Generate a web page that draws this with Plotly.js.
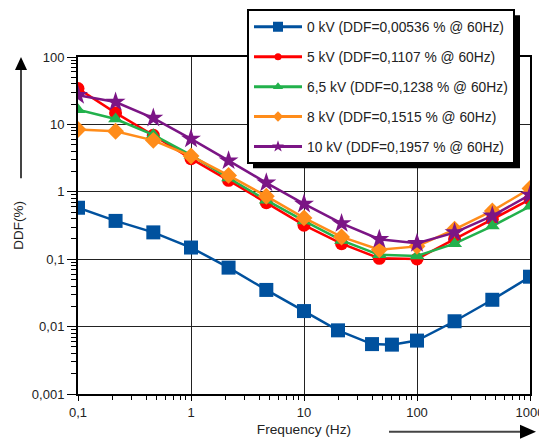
<!DOCTYPE html>
<html>
<head>
<meta charset="utf-8">
<script src="https://cdn.plot.ly/plotly-3.0.1.min.js"></script>
<style>html,body{margin:0;padding:0;background:#fff;}#chart{width:539px;height:444px;}</style>
</head>
<body>
<div id="chart"></div>
<script>
// ---- data ----
const freqBlue = [0.1, 0.215, 0.464, 1, 2.15, 4.64, 10, 20, 40, 60, 100, 215, 464, 1000];
const ddf0kV   = [0.58, 0.37, 0.25, 0.149, 0.075, 0.035, 0.017, 0.0088, 0.0055, 0.0054, 0.0062, 0.012, 0.025, 0.055];
const freq     = [0.1, 0.215, 0.464, 1, 2.15, 4.64, 10, 21.5, 46.4, 100, 215, 464, 1000];
const ddf5kV   = [34, 14.8, 6.9, 3.1, 1.48, 0.69, 0.32, 0.17, 0.103, 0.101, 0.2, 0.39, 0.77];
const ddf65kV  = [16.5, 12, 7.0, 3.5, 1.6, 0.75, 0.37, 0.19, 0.116, 0.112, 0.17, 0.31, 0.61];
const ddf8kV   = [8.4, 7.9, 5.8, 3.4, 1.75, 0.86, 0.41, 0.214, 0.138, 0.155, 0.278, 0.52, 1.12];
const ddf10kV  = [27, 21.5, 12.4, 6.1, 2.9, 1.36, 0.66, 0.34, 0.198, 0.173, 0.248, 0.44, 0.9];
const seriesNames = [
  "0 kV (DDF=0,00536 % @ 60Hz)",
  "5 kV (DDF=0,1107 % @ 60Hz)",
  "6,5 kV (DDF=0,1238 % @ 60Hz)",
  "8 kV (DDF=0,1515 % @ 60Hz)",
  "10 kV (DDF=0,1957 % @ 60Hz)"
];
const yTickVals = [0.001, 0.01, 0.1, 1, 10, 100];
const yTickText = ["0,001", "0,01", "0,1", "1", "10", "100"];
const xTickVals = [0.1, 1, 10, 100, 1000];
const xTickText = ["0,1", "1", "10", "100", "1000"];

// ---- styles ----
const colors = ["#00519E", "#FF0000", "#22B14C", "#FF8C1A", "#7B1585"];
const symbols = ["square", "circle", "triangle-up", "diamond", "star"];
const sizes = [14, 13, 13, 13, 15];
const legendSizes = [10, 7, 9, 8, 9];
const xs = [freqBlue, freq, freq, freq, freq];
const ys = [ddf0kV, ddf5kV, ddf65kV, ddf8kV, ddf10kV];

const traces = [];
for (let i = 0; i < 5; i++) {
  traces.push({
    x: xs[i], y: ys[i], type: "scatter", mode: "lines+markers",
    line: {color: colors[i], width: 2.5},
    marker: {color: colors[i], symbol: symbols[i], size: sizes[i]},
    showlegend: false, hoverinfo: "skip"
  });
}
for (let i = 0; i < 5; i++) {
  traces.push({
    x: [null], y: [null], type: "scatter", mode: "lines+markers",
    name: seriesNames[i], legendgroup: "g" + i,
    line: {color: colors[i], width: 3},
    marker: {color: colors[i], symbol: symbols[i], size: legendSizes[i]},
    showlegend: true
  });
}

// pixel -> paper helpers for decorations
const L = 78, R = 530, T = 55, B = 394;
const px = v => (v - L) / (R - L);
const py = v => (B - v) / (B - T);
const FONT = "Liberation Sans, Arial, sans-serif";

const shapes = [
  // legend shadow
  {type: "rect", xref: "paper", yref: "paper", x0: px(253), x1: px(520), y0: py(167), y1: py(13),
   fillcolor: "#000", line: {width: 0}, layer: "above"},
  // vertical arrow
  {type: "line", xref: "paper", yref: "paper", x0: px(21), x1: px(21), y0: py(177), y1: py(66),
   line: {color: "#444", width: 2}},
  {type: "path", xref: "paper", yref: "paper",
   path: `M ${px(21)} ${py(55)} L ${px(15)} ${py(68)} L ${px(27)} ${py(68)} Z`,
   fillcolor: "#000", line: {width: 0}},
  // horizontal arrow
  {type: "line", xref: "paper", yref: "paper", x0: px(389), x1: px(522), y0: py(432), y1: py(432),
   line: {color: "#444", width: 2}},
  {type: "path", xref: "paper", yref: "paper",
   path: `M ${px(536)} ${py(432)} L ${px(520)} ${py(425)} L ${px(520)} ${py(439)} Z`,
   fillcolor: "#000", line: {width: 0}}
];

const layout = {
  width: 539, height: 444,
  margin: {l: L, r: 539 - R, t: T, b: 444 - B},
  paper_bgcolor: "#fff", plot_bgcolor: "#fff",
  font: {family: FONT, size: 13, color: "#222"},
  xaxis: {
    type: "log", range: [-1, 3],
    tickmode: "array", tickvals: xTickVals, ticktext: xTickText,
    ticks: "outside", ticklen: 5, tickwidth: 1, tickcolor: "#000",
    ticklabeloverflow: "allow",
    showgrid: true, gridcolor: "#222", gridwidth: 1,
    showline: true, linecolor: "#000", linewidth: 2, mirror: true,
    zeroline: false,
    tickfont: {size: 13, family: FONT, color: "#222"},
    minor: {dtick: "D1", ticks: "outside", ticklen: 4, tickcolor: "#000", showgrid: false},
    title: {text: "Frequency (Hz)", font: {size: 13.7, family: FONT, color: "#222"}, standoff: 6}
  },
  yaxis: {
    type: "log", range: [-3, 2],
    tickmode: "array", tickvals: yTickVals, ticktext: yTickText,
    ticks: "outside", ticklen: 9, tickwidth: 1, tickcolor: "#000",
    showgrid: true, gridcolor: "#222", gridwidth: 1,
    showline: true, linecolor: "#000", linewidth: 2, mirror: true,
    zeroline: false,
    tickfont: {size: 13, family: FONT, color: "#222"},
    minor: {dtick: "D1", ticks: "outside", ticklen: 5, tickcolor: "#000", showgrid: false},
    title: {text: "DDF(%)", font: {size: 13.5, family: FONT, color: "#222"}, standoff: 5}
  },
  showlegend: true,
  legend: {
    x: px(247), y: py(7), xanchor: "left", yanchor: "top",
    bgcolor: "#fff", bordercolor: "#000", borderwidth: 2,
    font: {size: 13.8, family: FONT, color: "#222"},
    tracegroupgap: 9, itemwidth: 48, traceorder: "grouped"
  },
  shapes: shapes
};

Plotly.newPlot("chart", traces, layout, {displayModeBar: false, staticPlot: true});
</script>
</body>
</html>
